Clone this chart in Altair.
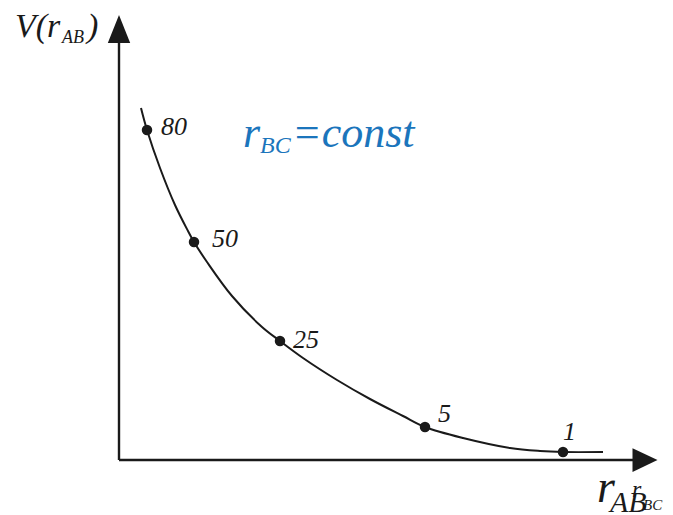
import altair as alt
import pandas as pd

# Potential energy along r_AB at fixed r_BC: sampled curve (r_AB, V)
curve_r = [22, 28, 41, 56, 69, 75, 88, 113, 143, 161, 184, 218, 251, 284, 306, 344, 391, 421, 444, 484]
curve_v = [352, 330, 292, 255, 229, 218, 198, 164, 133, 119, 102, 80, 61, 44, 33, 22, 12, 9, 8, 8]

# Marked points and their labels
point_r = [28, 75, 161, 306, 444]
point_v = [330, 218, 119, 33, 8]
point_labels = ["80", "50", "25", "5", "1"]
label_dx = [14, 18, 13, 13, 0]
label_dy = [-5, -5, -7, 5, 12]

SERIF = "Liberation Serif"
INK = "#1a1a1a"
BLUE = "#1b75bc"

X_DOM = [-119, 554]
Y_DOM = [-55, 460]

curve_df = pd.DataFrame({"r": curve_r, "v": curve_v})
pts_df = pd.DataFrame({
    "r": point_r,
    "v": point_v,
    "label": point_labels,
    "lx": [r + d for r, d in zip(point_r, label_dx)],
    "ly": [v + d for v, d in zip(point_v, label_dy)],
})

xs = alt.Scale(domain=X_DOM, nice=False, zero=False)
ys = alt.Scale(domain=Y_DOM, nice=False, zero=False)
X = lambda f: alt.X(f, type="quantitative", scale=xs, axis=None)
Y = lambda f: alt.Y(f, type="quantitative", scale=ys, axis=None)

# Coordinate axes with arrowheads
axes_df = pd.DataFrame({"x": [0, 0], "y": [0, 0], "x2": [0, 526], "y2": [432, 0]})
axes = alt.Chart(axes_df).mark_rule(color=INK, strokeWidth=2.4).encode(
    x=X("x"), y=Y("y"), x2="x2", y2="y2"
)
head_up = alt.Chart(pd.DataFrame({"x": [0], "y": [431]})).mark_point(
    shape="M-0.8,1L0,-1L0.8,1Z", size=784, filled=True, opacity=1, color=INK
).encode(x=X("x"), y=Y("y"))
head_right = alt.Chart(pd.DataFrame({"x": [526], "y": [0]})).mark_point(
    shape="M-1,-0.95L1,0L-1,0.95Z", size=625, filled=True, opacity=1, color=INK
).encode(x=X("x"), y=Y("y"))

curve = alt.Chart(curve_df).mark_line(
    color=INK, strokeWidth=2, interpolate="catmull-rom"
).encode(x=X("r"), y=Y("v"), order="r:Q")

dots = alt.Chart(pts_df).mark_circle(size=110, color=INK, opacity=1).encode(
    x=X("r"), y=Y("v")
)
dot_labels = alt.Chart(pts_df).mark_text(
    font=SERIF, fontStyle="italic", fontSize=26, align="left",
    baseline="alphabetic", color=INK
).encode(x=X("lx"), y=Y("ly"), text="label:N")

# Axis titles and the constant-r_BC annotation
ann_text = ["V(r", "AB", ")", "r", "BC", "=const", "r", "AB", "r", "BC"]
ann_x = [-104, -57, -32, 124, 141, 173, 478, 491, 513, 524]
ann_y = [423, 417, 423, 313, 307, 313, -42, -52, -37, -50]
ann_size = [34, 18, 34, 44, 24, 44, 46, 30, 24, 15]
ann_color = [INK, INK, INK, BLUE, BLUE, BLUE, INK, INK, INK, INK]
ann_df = pd.DataFrame({"t": ann_text, "x": ann_x, "y": ann_y,
                       "fs": ann_size, "c": ann_color})
ann = alt.Chart(ann_df).mark_text(
    font=SERIF, fontStyle="italic", align="left", baseline="alphabetic"
).encode(
    x=X("x"), y=Y("y"), text="t:N",
    size=alt.Size("fs:Q", scale=None, legend=None),
    color=alt.Color("c:N", scale=None, legend=None),
)

chart = alt.layer(axes, head_up, head_right, curve, dots, dot_labels, ann).properties(
    width=673, height=515,
    autosize=alt.AutoSizeParams(type="none"),
    padding=0,
    background="white",
).configure_view(stroke=None)

chart.save("out.html", embed_options={"renderer": "svg", "actions": False})
